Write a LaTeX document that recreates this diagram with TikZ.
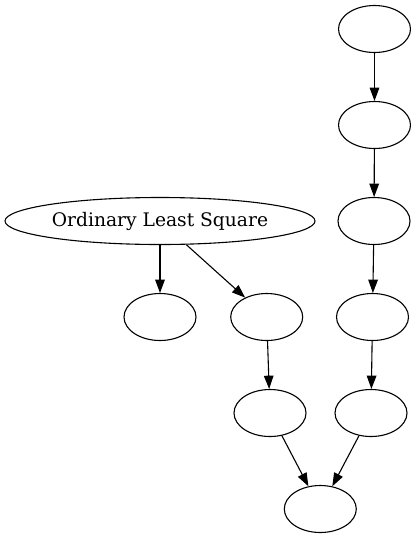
\documentclass[tikz,border=0pt]{standalone}
\usepackage{fontspec}
\setmainfont{DejaVu Serif}
\usetikzlibrary{shapes.geometric,arrows.meta}
\begin{document}
\begin{tikzpicture}[x=1pt,y=-1pt,
  nd/.style={draw,ellipse,line width=1.1pt,minimum width=72pt,minimum height=47pt,inner sep=0pt},
  bignd/.style={nd,minimum width=310pt,font=\fontsize{18.67}{22}\selectfont},
  arr/.style={-{Triangle[length=13.3pt,width=9.6pt]},line width=1.1pt}]
\useasboundingbox (0,0) rectangle (416,539);
\node[nd] (a) at (374.5,29) {};
\node[nd] (b) at (374.5,125) {};
\node[nd] (c) at (374,221) {};
\node[nd] (d) at (372.5,317) {};
\node[nd] (e) at (371,413) {};
\node[bignd] (ols) at (160,221) {Ordinary Least Square};
\node[nd] (f) at (160,317) {};
\node[nd] (g) at (266.7,317) {};
\node[nd] (h) at (270,413) {};
\node[nd] (i) at (320.3,509) {};
\draw[arr] (a) -- (b);
\draw[arr] (b) -- (c);
\draw[arr] (c) -- (d);
\draw[arr] (d) -- (e);
\draw[arr] (ols) -- (f);
\draw[arr] (ols) -- (g);
\draw[arr] (g) -- (h);
\draw[arr] (h) -- (i);
\draw[arr] (e) -- (i);
\end{tikzpicture}
\end{document}
